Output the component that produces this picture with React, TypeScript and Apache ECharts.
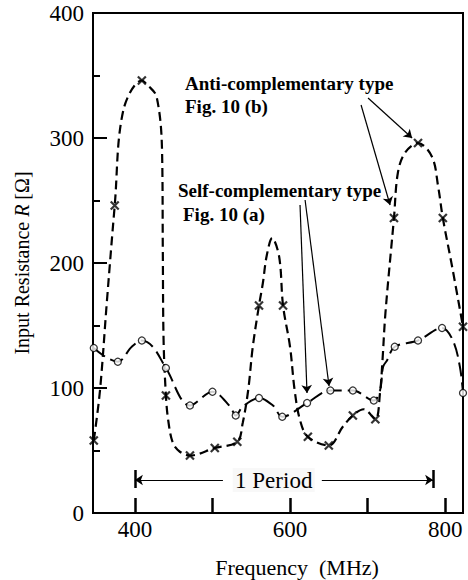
import React, { useEffect, useRef } from "react";
import * as echarts from "echarts";

// Anti-complementary type (Fig. 10 (b)) — marker positions (x symbols)
const antiMarkFreq = [347, 374, 409, 440, 471, 503, 532, 560, 591, 623, 650, 681, 710, 734, 765, 797, 823];
const antiMarkR = [58, 246, 346, 94, 46, 52, 57, 166, 166, 61, 54, 78, 75, 236, 296, 236, 149];

// Anti-complementary type — traced dashed curve
const antiCurveFreq = [347, 355, 364, 374, 385, 409, 417, 428, 435, 436, 437, 440, 443, 449, 458, 471, 503, 532, 539, 546, 552, 560, 565, 570, 577, 586, 591, 600, 606, 613, 623, 650, 668, 681, 695, 710, 716, 719, 723, 734, 739, 748, 765, 783, 791, 797, 809, 823];
const antiCurveR = [58, 98, 170, 246, 322, 346, 342, 333, 290, 210, 138, 94, 74, 56, 49, 46, 52, 57, 72, 98, 133, 166, 184, 206, 220, 205, 166, 133, 98, 74, 61, 54, 69, 78, 83, 75, 96, 120, 160, 236, 272, 288, 296, 285, 261, 236, 197, 149];

// Self-complementary type (Fig. 10 (a)) — marker positions (open circles)
const selfMarkFreq = [347, 378, 409, 440, 471, 500, 530, 560, 590, 622, 652, 681, 708, 735, 765, 796, 823];
const selfMarkR = [132, 121, 138, 116, 86, 97, 78, 92, 77, 88, 98, 98, 90, 133, 138, 148, 96];

// Self-complementary type — traced dashed curve
const selfCurveFreq = [347, 362, 378, 396, 409, 423, 440, 471, 500, 523, 530, 539, 560, 578, 590, 622, 652, 681, 708, 716, 720, 725, 735, 765, 796, 810, 819, 823];
const selfCurveR = [132, 125, 121, 133, 138, 133, 116, 86, 97, 85, 78, 85, 92, 86, 77, 88, 98, 98, 90, 98, 117, 122, 133, 138, 148, 138, 117, 96];

// Axes
const xMin = 346;
const xMax = 823;
const xTickValues = [400, 500, 600, 700, 800];
const xLabelValues = [400, 600, 800];
const yMin = 0;
const yMax = 400;
const yInterval = 100;

// Annotations (data coordinates)
const periodStart = 400;
const periodEnd = 784.5;
const periodLevel = 26.4;
const periodBarLow = 20;
const periodBarHigh = 34.4;
const periodGapLeft = 513.5;
const periodGapRight = 641;
const periodLabelAt = 579;
const antiArrows = [
  [[691.6, 326.4], [729.0, 246.4]],
  [[700.6, 332.0], [757.4, 300.0]],
];
const selfArrows = [
  [[612.9, 246.4], [621.9, 96.0]],
  [[619.4, 250.4], [650.3, 101.6]],
];

const FONT = "Liberation Serif, Times New Roman, serif";

const zip = (xs: number[], ys: number[]) => xs.map((x, i) => [x, ys[i]]);

export default function App() {
  const ref = useRef<HTMLDivElement>(null);

  useEffect(() => {
    if (!ref.current) return;
    const chart = echarts.init(ref.current, null, { renderer: "svg" });

    const arrowLine = (a: number[], b: number[]) => [
      { coord: a, symbol: "none" },
      { coord: b, symbol: "arrow" },
    ];
    const plainLine = (a: number[], b: number[], w: number) => [
      { coord: a, symbol: "none", lineStyle: { width: w } },
      { coord: b, symbol: "none" },
    ];
    const annot = (text: string, x: number, y: number) => ({
      type: "text",
      x,
      y,
      style: {
        text,
        fontFamily: FONT,
        fontSize: 19,
        fontWeight: "bold",
        fill: "#000",
        verticalAlign: "middle",
      },
    });

    const option: any = {
      animation: false,
      backgroundColor: "#fff",
      textStyle: { fontFamily: FONT },
      grid: {
        left: 93,
        top: 13,
        right: 5,
        bottom: 67,
        show: true,
        borderColor: "#000",
        borderWidth: 2,
        containLabel: false,
        outerBoundsMode: "none",
      },
      xAxis: {
        type: "value",
        min: xMin,
        max: xMax,
        name: "Frequency  (MHz)",
        nameLocation: "middle",
        nameGap: 43,
        nameTextStyle: {
          fontFamily: FONT,
          fontSize: 22,
          color: "#000",
          padding: [0, 0, 0, 38],
        },
        axisLine: { show: true, onZero: false, lineStyle: { color: "#000", width: 2 } },
        axisTick: {
          show: true,
          inside: true,
          length: 15,
          customValues: xTickValues,
          lineStyle: { color: "#000", width: 2.5 },
        },
        axisLabel: {
          customValues: xLabelValues,
          fontFamily: FONT,
          fontSize: 23,
          color: "#000",
          margin: 5,
        },
        splitLine: { show: false },
      },
      yAxis: {
        type: "value",
        min: yMin,
        max: yMax,
        interval: yInterval,
        name: "Input Resistance {i|R} [Ω]",
        nameLocation: "middle",
        nameGap: 61,
        nameTextStyle: {
          fontFamily: FONT,
          fontSize: 20,
          color: "#000",
          rich: {
            i: { fontFamily: FONT, fontSize: 20, fontStyle: "italic", color: "#000" },
          },
        },
        axisLine: { show: true, lineStyle: { color: "#000", width: 2 } },
        axisTick: { show: true, inside: true, length: 14, lineStyle: { color: "#000", width: 2 } },
        minorTick: { show: true, splitNumber: 2, length: 7, lineStyle: { color: "#000", width: 2 } },
        axisLabel: { fontFamily: FONT, fontSize: 23, color: "#000", margin: 9 },
        splitLine: { show: false },
        minorSplitLine: { show: false },
      },
      graphic: [
        annot("Anti-complementary type", 185, 83),
        annot("Fig. 10 (b)", 185, 106),
        annot("Self-complementary type", 178, 190),
        annot("Fig. 10 (a)", 183, 214),
      ],
      series: [
        {
          name: "anti-curve",
          type: "line",
          data: zip(antiCurveFreq, antiCurveR),
          smooth: 0.35,
          showSymbol: false,
          symbol: "none",
          silent: true,
          lineStyle: { color: "#000", width: 2.2, type: [9, 5] },
          z: 2,
        },
        {
          name: "self-curve",
          type: "line",
          data: zip(selfCurveFreq, selfCurveR),
          smooth: 0.35,
          showSymbol: false,
          symbol: "none",
          silent: true,
          lineStyle: { color: "#000", width: 2, type: [14, 6] },
          z: 2,
        },
        {
          name: "anti-marks",
          type: "scatter",
          data: zip(antiMarkFreq, antiMarkR),
          symbol: "path://M0,0L10,10M0,10L10,0",
          symbolSize: 8,
          clip: false,
          silent: true,
          itemStyle: { color: "none", borderColor: "#000", borderWidth: 2.2 },
          z: 4,
          markLine: {
            silent: true,
            symbolSize: 8,
            label: { show: false },
            lineStyle: { color: "#000", width: 1.2, type: "solid" },
            emphasis: { disabled: true },
            data: [
              ...antiArrows.map(([a, b]) => arrowLine(a, b)),
              ...selfArrows.map(([a, b]) => arrowLine(a, b)),
              arrowLine([periodGapLeft, periodLevel], [periodStart, periodLevel]),
              arrowLine([periodGapRight, periodLevel], [periodEnd, periodLevel]),
              plainLine([periodStart, periodBarLow], [periodStart, periodBarHigh], 2.5),
              plainLine([periodEnd, periodBarLow], [periodEnd, periodBarHigh], 2.5),
            ],
          },
          markPoint: {
            silent: true,
            symbol: "rect",
            symbolSize: [82, 24],
            itemStyle: { color: "#f8f8f8" },
            label: {
              show: true,
              position: "inside",
              formatter: "1 Period",
              fontFamily: FONT,
              fontSize: 23,
              color: "#000",
            },
            data: [{ coord: [periodLabelAt, periodLevel] }],
          },
        },
        {
          name: "self-marks",
          type: "scatter",
          data: zip(selfMarkFreq, selfMarkR),
          symbol: "circle",
          symbolSize: 7,
          clip: false,
          silent: true,
          itemStyle: { color: "#fff", borderColor: "#000", borderWidth: 1.3 },
          z: 5,
        },
      ],
    };

    chart.setOption(option);
    return () => chart.dispose();
  }, []);

  return (
    <div
      ref={ref}
      style={{ position: "fixed", left: 0, top: 0, width: 468, height: 580, background: "#fff" }}
    />
  );
}
